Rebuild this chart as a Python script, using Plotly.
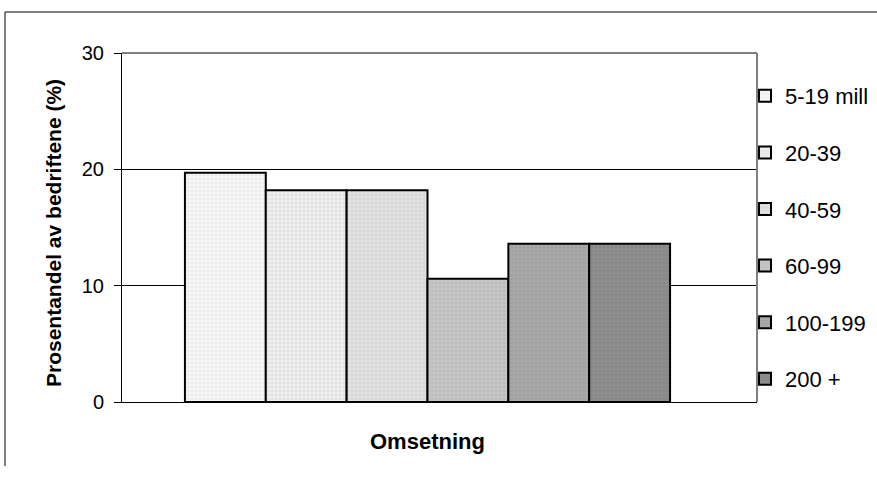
import plotly.graph_objects as go

series_names = ["5-19 mill", "20-39", "40-59", "60-99", "100-199", "200 +"]
values = [19.7, 18.2, 18.2, 10.6, 13.6, 13.6]
fill_colors = ["#f6f6f6", "#ededed", "#e1e1e1", "#c6c6c6", "#a9a9a9", "#8e8e8e"]
dot_colors = ["#dcdcdc", "#cfcfcf", "#c8c8c8", "#b0b0b0", "#949494", "#7a7a7a"]
category = [0]
x_title = "Omsetning"
y_title = "Prosentandel av bedriftene (%)"

fig = go.Figure()
for i, name in enumerate(series_names):
    fig.add_trace(go.Bar(
        x=category, y=[values[i]], name=name,
        legendgroup=name,
        marker=dict(color=fill_colors[i],
                    line=dict(color="black", width=2),
                    pattern=dict(shape=".", fgcolor=dot_colors[i], bgcolor=fill_colors[i],
                                 size=4, solidity=0.3)),
    ))

L, R, T, B = 122, 120, 53, 79
W, H = 877, 481
pw, ph = W - L - R, H - T - B
shift = 12 / pw  # group sits slightly left of the plot centre

def px_x(px):
    return (px - L) / pw

def px_y(py):
    return (H - B - py) / ph

fig.update_layout(
    width=W, height=H,
    margin=dict(l=L, r=R, t=T, b=B, autoexpand=False),
    paper_bgcolor="white", plot_bgcolor="white",
    barmode="group", bargap=0.236, bargroupgap=0,
    font=dict(family="Liberation Sans, Arial", size=20, color="black"),
    showlegend=True,
    legend=dict(xref="container", yref="container",
                x=745 / W, xanchor="left", y=1 - 75 / H, yanchor="top",
                font=dict(size=22), tracegroupgap=25, itemwidth=30, maxheight=1,
                bgcolor="rgba(0,0,0,0)"),
    xaxis=dict(range=[-0.5 + shift, 0.5 + shift], showticklabels=False, ticks="", showgrid=False,
               zeroline=False, showline=True, linecolor="black", linewidth=1),
    yaxis=dict(range=[0, 30], tickvals=[0, 10, 20, 30], ticks="outside", ticklen=7,
               ticklabelstandoff=6,
               tickcolor="black", showgrid=True, gridcolor="black", gridwidth=1,
               zeroline=False, showline=True, linecolor="black", linewidth=1),
    annotations=[
        dict(text="<b>" + x_title + "</b>", xref="paper", yref="paper",
             x=px_x(427.5), y=px_y(441), xanchor="center", yanchor="middle",
             showarrow=False, font=dict(size=22)),
        dict(text="<b>" + y_title + "</b>", xref="paper", yref="paper", textangle=-90,
             x=px_x(53), y=px_y(233), xanchor="center", yanchor="middle",
             showarrow=False, font=dict(size=21)),
    ],
    shapes=[
        dict(type="line", xref="paper", yref="paper", x0=0, x1=1, y0=1, y1=1,
             line=dict(color="#808080", width=2)),
        dict(type="line", xref="paper", yref="paper", x0=1, x1=1, y0=0, y1=1,
             line=dict(color="#808080", width=2)),
        dict(type="line", xref="paper", yref="paper",
             x0=px_x(5), x1=px_x(900), y0=px_y(12), y1=px_y(12),
             line=dict(color="black", width=1), layer="below"),
        dict(type="line", xref="paper", yref="paper",
             x0=px_x(5), x1=px_x(5), y0=px_y(12), y1=px_y(466),
             line=dict(color="black", width=1), layer="below"),
    ],
)

fig.write_html("out.html", config={"displayModeBar": False},
               post_script="document.body.style.margin='0';document.body.style.overflow='hidden';")
